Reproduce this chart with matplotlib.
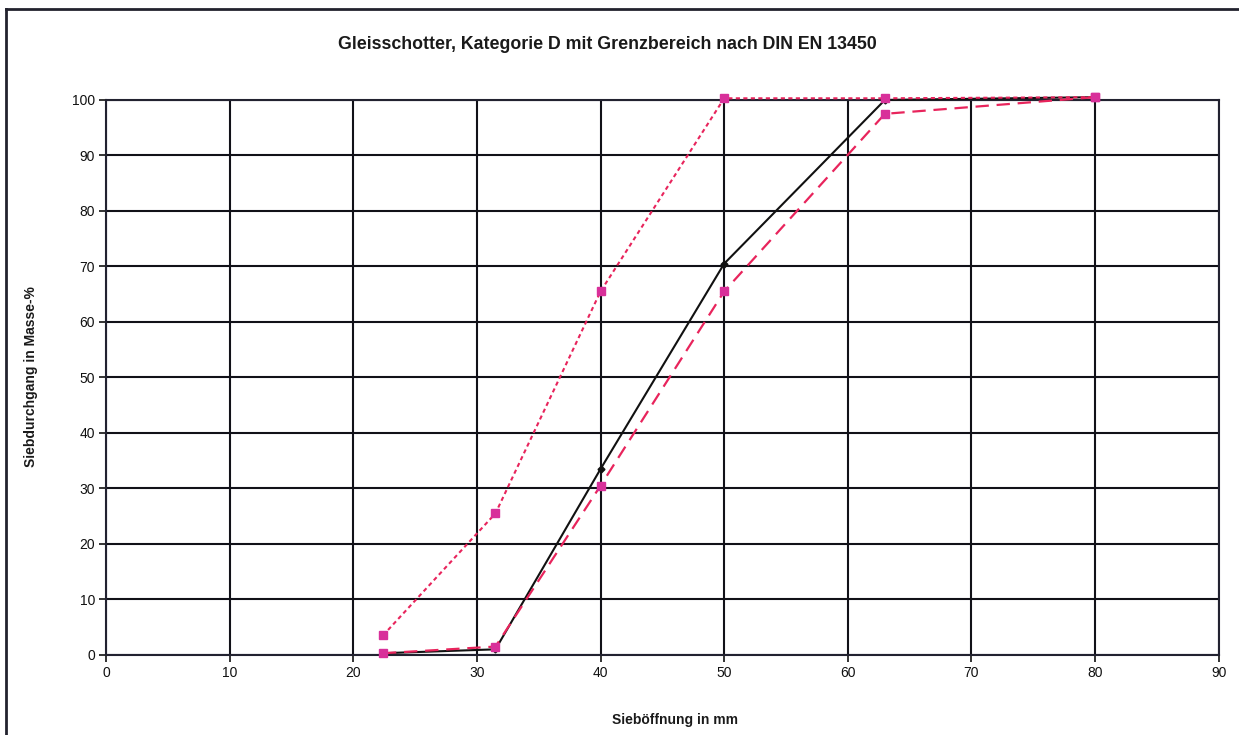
import numpy as np
import matplotlib.pyplot as plt
from matplotlib.lines import Line2D

plt.rcParams['font.family'] = ['Liberation Sans', 'DejaVu Sans']

# Sieve openings (mm) and passing (mass-%)
sieve_mm = [22.4, 31.5, 40, 50, 63, 80]
upper_limit = [3.5, 25.5, 65.5, 100.3, 100.3, 100.5]
lower_limit = [0.3, 1.5, 30.5, 65.5, 97.5, 100.5]
sample = [0.3, 1, 33.5, 70.5, 100, 100.5]

x_ticks = np.arange(0, 91, 10)
y_ticks = np.arange(0, 101, 10)

fig = plt.figure(figsize=(12.39, 7.35), dpi=100)
ax = fig.add_axes([0.0856, 0.109, 0.898, 0.755])

# frame around the chart area (scanned page border)
fig.add_artist(Line2D([0.005, 0.005], [0.0, 0.988], transform=fig.transFigure, color='#22222e', lw=2))
fig.add_artist(Line2D([0.005, 1.0], [0.988, 0.988], transform=fig.transFigure, color='#22222e', lw=2))

ax.set_xlim(0, 90)
ax.set_ylim(0, 100)
ax.set_xticks(x_ticks)
ax.set_yticks(y_ticks)
ax.grid(True, color='#111118', lw=1.5)
ax.set_axisbelow(True)
for s in ax.spines.values():
    s.set_color('#222230')
    s.set_linewidth(1.5)
ax.tick_params(direction='out', length=5, width=1.2, colors='#111', labelsize=10, pad=3)

ax.plot(sieve_mm, sample, color='#111111', lw=1.5, marker='D', ms=3.5, zorder=3, clip_on=False)
ax.plot(sieve_mm, upper_limit, color='#e8245c', lw=1.5, ls=(0, (2, 1.6)), marker='s', ms=6,
        mfc='#d8309a', mec='#d8309a', zorder=4, clip_on=False)
ax.plot(sieve_mm, lower_limit, color='#e8245c', lw=1.6, ls=(0, (6, 3.5)), marker='s', ms=6,
        mfc='#d8309a', mec='#d8309a', zorder=4, clip_on=False)

fig.text(0.49, 0.94, 'Gleisschotter, Kategorie D mit Grenzbereich nach DIN EN 13450',
         ha='center', va='center', fontsize=12.8, fontweight='bold', color='#1a1a1a')
fig.text(0.025, 0.487, 'Siebdurchgang in Masse-%', rotation=90, ha='center', va='center',
         fontsize=10, fontweight='bold', color='#1a1a1a')
fig.text(0.545, 0.02, 'Sieböffnung in mm', ha='center', va='center',
         fontsize=10, fontweight='bold', color='#1a1a1a')

fig.savefig('out.png', dpi=100)
